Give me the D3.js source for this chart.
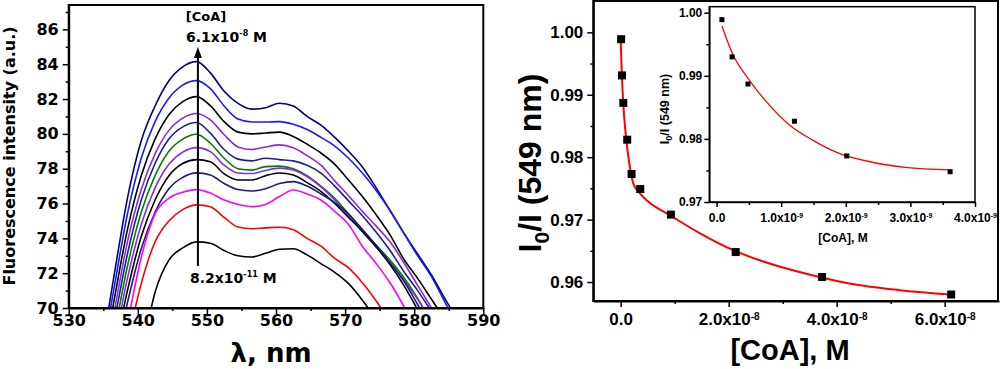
<!DOCTYPE html>
<html>
<head>
<meta charset="utf-8" />
<style>
  body { margin: 0; background: #fff; }
  svg { display: block; font-weight: bold; }
  .left text { font-family: "DejaVu Sans", sans-serif; }
  .right text { font-family: "Liberation Sans", Arial, sans-serif; }
  .axis path, .axis line { stroke: #000; }
</style>
</head>
<body>
<div id="chart"></div>
<script src="https://d3js.org/d3.v7.min.js"></script>
<script>
// ---- fluorescence spectra (left) ----
var wavelength = [534.5, 536.5, 538.5, 540.5, 542.5, 544.5, 546.5, 548.5, 550.5, 552.5, 554.5, 556.5, 558.5,
  560.5, 562.5, 564.5, 566.5, 568.5, 570.5, 572.5, 574.5, 576.5, 578.5, 580.5, 582.5, 584.5, 586.5];
var spec1  = [66.9, 71.7, 76.3, 79.6, 81.6, 83.05, 83.85, 84.15, 83.5, 82.45, 81.75, 81.42, 81.5, 81.76, 81.6, 81.0, 80.5, 79.8, 79.0, 78.1, 76.9, 75.6, 74.3, 73.1, 71.9, 70.5, 69.2];
var spec2  = [66.5, 71.0, 75.4, 78.6, 80.7, 82.05, 82.8, 83.06, 82.6, 81.6, 80.85, 80.68, 80.68, 80.7, 80.55, 80.25, 79.8, 79.3, 78.6, 77.75, 76.75, 75.6, 74.3, 73.0, 71.8, 70.3, 68.8];
var spec3  = [65.9, 70.3, 74.5, 77.6, 79.7, 81.1, 81.85, 82.14, 81.62, 80.7, 80.1, 80.0, 80.05, 80.1, 79.85, 79.4, 78.9, 78.25, 77.35, 76.4, 75.35, 74.2, 72.8, 71.7, 70.5, 69.3, 68.0];
var spec4  = [65.5, 69.6, 73.8, 76.8, 78.85, 80.2, 80.9, 81.17, 80.8, 79.95, 79.25, 79.1, 79.25, 79.37, 79.2, 78.75, 78.2, 77.3, 76.45, 75.55, 74.7, 73.8, 72.6, 71.3, 70.0, 68.7, 67.4];
var spec5  = [64.8, 69.0, 73.1, 76.2, 78.3, 79.7, 80.4, 80.65, 80.04, 79.1, 78.55, 78.45, 78.6, 78.52, 78.45, 78.2, 77.75, 77.0, 76.15, 75.3, 74.35, 73.3, 72.1, 71.0, 69.8, 68.5, 67.2];
var spec6  = [64.3, 68.3, 72.4, 75.5, 77.6, 79.0, 79.7, 79.98, 79.46, 78.6, 78.0, 77.92, 78.12, 78.15, 78.0, 77.6, 77.0, 76.3, 75.4, 74.5, 73.6, 72.75, 71.75, 70.55, 69.2, 67.9, 66.6];
var spec7  = [63.8, 67.7, 71.7, 74.8, 76.9, 78.25, 78.95, 79.21, 78.98, 78.2, 77.75, 77.72, 77.9, 78.03, 77.93, 77.55, 76.95, 76.2, 75.3, 74.4, 73.5, 72.6, 71.6, 70.5, 69.2, 67.9, 66.6];
var spec8  = [63.3, 67.2, 71.0, 74.1, 76.2, 77.6, 78.3, 78.52, 78.4, 77.7, 77.35, 77.35, 77.6, 77.75, 77.64, 77.2, 76.7, 76.0, 75.2, 74.4, 73.5, 72.5, 71.3, 69.9, 68.5, 67.2, 65.9];
var spec9  = [62.8, 66.6, 70.3, 73.4, 75.5, 76.85, 77.5, 77.76, 77.64, 77.15, 76.8, 76.72, 76.85, 77.15, 77.26, 77.0, 76.55, 76.05, 75.4, 74.5, 73.6, 72.6, 71.55, 70.2, 68.8, 67.4, 66.0];
var spec10 = [61.5, 65.3, 69.1, 72.9, 75.4, 76.3, 76.65, 76.8, 76.6, 76.2, 75.95, 75.82, 75.95, 76.4, 76.78, 76.55, 76.2, 75.55, 74.8, 73.55, 72.55, 71.45, 70.1, 68.6, 67.2, 65.8, 64.4];
var spec11 = [60.5, 64.2, 68.0, 71.4, 73.8, 75.0, 75.65, 75.92, 75.82, 75.2, 74.65, 74.55, 74.6, 74.64, 74.5, 74.0, 73.55, 72.85, 72.3, 71.45, 70.4, 69.2, 68.0, 66.8, 65.6, 64.4, 63.2];
var spec12 = [55.0, 59.0, 63.0, 67.2, 70.9, 72.75, 73.45, 73.8, 73.72, 73.3, 73.0, 72.93, 73.15, 73.37, 73.4, 73.05, 72.55, 72.05, 71.4, 70.45, 69.3, 68.0, 66.8, 65.6, 64.4, 63.2, 62.0];
var specColors = ["#000080", "#1a1aff", "#000000", "#8a2be2", "#1f1f8f", "#008000",
  "#8a2be2", "#000000", "#1a1a80", "#ff00ff", "#ff0000", "#000000"];
var specXTicks = [530, 540, 550, 560, 570, 580, 590];
var specXMinor = [535, 545, 555, 565, 575, 585];
var specYTicks = [70, 72, 74, 76, 78, 80, 82, 84, 86];
var specYMinor = [71, 73, 75, 77, 79, 81, 83, 85, 87];

// ---- quenching plot (right) ----
var coaConc = [8.2e-11, 2.4e-10, 4.9e-10, 1.21e-9, 2.02e-9, 3.62e-9, 9.3e-9, 2.13e-8, 3.73e-8, 6.12e-8];
var ratio   = [0.9989, 0.9931, 0.9887, 0.9828, 0.9773, 0.9749, 0.9708, 0.9648, 0.9608, 0.9580];
var fitConc  = [0, 1.85e-10, 4.8e-10, 9.8e-10, 1.6e-9, 2.33e-9, 3.57e-9, 4.8e-9, 9.13e-9, 1.47e-8, 2.085e-8, 2.6e-8, 3.135e-8, 3.94e-8, 4.5e-8, 5.17e-8, 6.12e-8];
var fitRatio = [0.9988, 0.9940, 0.9886, 0.9833, 0.9790, 0.9758, 0.9742, 0.9731, 0.9707, 0.9678, 0.9651, 0.9634, 0.9620, 0.9603, 0.9594, 0.9587, 0.9580];
var mainXTicks = [0, 2e-8, 4e-8, 6e-8];
var mainXMinor = [1e-8, 3e-8, 5e-8];
var mainYTicks = [0.96, 0.97, 0.98, 0.99, 1.00];
var mainYMinor = [0.965, 0.975, 0.985, 0.995];

// inset (first six points)
var insetConc  = [8.2e-11, 2.4e-10, 4.86e-10, 1.205e-9, 2.015e-9, 3.615e-9];
var insetRatio = [0.9989, 0.9930, 0.9887, 0.9828, 0.9773, 0.9748];
var insetFitConc  = [8.2e-11, 2.55e-10, 4.86e-10, 7.7e-10, 1.128e-9, 1.486e-9, 1.897e-9, 2.41e-9, 2.92e-9, 3.615e-9];
var insetFitRatio = [0.9979, 0.9933, 0.9896, 0.9859, 0.9822, 0.9798, 0.9777, 0.9763, 0.9755, 0.9751];
var insetXTicks = [0, 1e-9, 2e-9, 3e-9, 4e-9];
var insetXMinor = [5e-10, 1.5e-9, 2.5e-9, 3.5e-9];
var insetYTicks = [0.97, 0.98, 0.99, 1.00];
var insetYMinor = [0.975, 0.985, 0.995];

var spectra = [spec1, spec2, spec3, spec4, spec5, spec6, spec7, spec8, spec9, spec10, spec11, spec12];

var svg = d3.select('#chart').append('svg')
  .attr('width', 1000)
  .attr('height', 369);

// scientific tick label, e.g. 2.0x10^-8
function sciLabel(text, v, supSize) {
  text.each(function(d) {
    var t = d3.select(this).text('');
    if (d === 0) { t.text('0.0'); return; }
    var e = Math.floor(Math.log10(d) + 1e-9);
    t.append('tspan').text((d / Math.pow(10, e)).toFixed(1) + 'x10');
    t.append('tspan').attr('dy', '-0.55em').attr('font-size', supSize).text(e);
  });
}

function styleAxis(g, w) {
  g.attr('class', 'axis');
  g.select('.domain').attr('stroke-width', w);
  g.selectAll('.tick line').attr('stroke-width', 1.5);
}

// ================= left panel =================
var left = svg.append('g').attr('class', 'left');
var x1 = d3.scaleLinear().domain([530, 590]).range([68.7, 483.3]);
var y1 = d3.scaleLinear().domain([70, 87.4]).range([308, 5]);

left.append('clipPath').attr('id', 'clipL')
  .append('rect').attr('x', x1(530)).attr('y', y1(87.4))
  .attr('width', x1(590) - x1(530)).attr('height', y1(70) - y1(87.4));

var line1 = d3.line()
  .x(function(d) { return x1(d[0]); })
  .y(function(d) { return y1(d[1]); })
  .curve(d3.curveMonotoneX);

left.append('g').attr('clip-path', 'url(#clipL)')
  .selectAll('path')
  .data(spectra)
  .enter().append('path')
  .attr('d', function(s) { return line1(wavelength.map(function(w, i) { return [w, s[i]]; })); })
  .attr('fill', 'none')
  .attr('stroke', function(s, i) { return specColors[i]; })
  .attr('stroke-width', 1.6);

var gx1 = left.append('g').attr('transform', 'translate(0,' + y1(70) + ')')
  .call(d3.axisBottom(x1).tickValues(specXTicks).tickSize(6).tickSizeOuter(0).tickPadding(1).tickFormat(d3.format('d')));
gx1.selectAll('text').attr('font-size', 16).attr('fill', '#000');
styleAxis(gx1, 2);
var gx1m = left.append('g').attr('transform', 'translate(0,' + y1(70) + ')')
  .call(d3.axisBottom(x1).tickValues(specXMinor).tickSize(3).tickSizeOuter(0).tickFormat(''));
styleAxis(gx1m, 0);

var gy1 = left.append('g').attr('transform', 'translate(' + x1(530) + ',0)')
  .call(d3.axisLeft(y1).tickValues(specYTicks).tickSize(6).tickSizeOuter(0).tickPadding(4).tickFormat(d3.format('d')));
gy1.selectAll('text').attr('font-size', 16).attr('fill', '#000');
styleAxis(gy1, 2);
var gy1m = left.append('g').attr('transform', 'translate(' + x1(530) + ',0)')
  .call(d3.axisLeft(y1).tickValues(specYMinor).tickSize(3).tickSizeOuter(0).tickFormat(''));
styleAxis(gy1m, 0);

left.append('rect')
  .attr('x', x1(530)).attr('y', y1(87.4))
  .attr('width', x1(590) - x1(530)).attr('height', y1(70) - y1(87.4))
  .attr('fill', 'none').attr('stroke', '#000').attr('stroke-width', 2);

// arrow
var ax = x1(548.7);
left.append('line').attr('x1', ax).attr('x2', ax).attr('y1', 266).attr('y2', 56)
  .attr('stroke', '#000').attr('stroke-width', 2);
left.append('path').attr('d', 'M' + ax + ',47 L' + (ax - 4) + ',58 L' + (ax + 4) + ',58 Z').attr('fill', '#000');

left.append('text').attr('x', 206).attr('y', 21).attr('text-anchor', 'middle')
  .attr('font-size', 13).text('[CoA]');
var lt = left.append('text').attr('x', 186).attr('y', 42).attr('font-size', 14);
lt.append('tspan').text('6.1x10');
lt.append('tspan').attr('dy', -6).attr('font-size', 8).text('-8');
lt.append('tspan').attr('dy', 6).text(' M');
var lb = left.append('text').attr('x', 190).attr('y', 283).attr('font-size', 14);
lb.append('tspan').text('8.2x10');
lb.append('tspan').attr('dy', -6).attr('font-size', 8).text('-11');
lb.append('tspan').attr('dy', 6).text(' M');

left.append('text')
  .attr('transform', 'translate(15,156) rotate(-90)')
  .attr('text-anchor', 'middle').attr('font-size', 16)
  .text('Fluorescence intensity (a.u.)');
left.append('text').attr('x', 271).attr('y', 362).attr('text-anchor', 'middle')
  .attr('font-size', 26).text('\u03bb, nm');

// ================= right panel =================
var right = svg.append('g').attr('class', 'right');
var x2 = d3.scaleLinear().domain([-0.507e-8, 7.006e-8]).range([593.3, 999]);
var y2 = d3.scaleLinear().domain([0.95696, 1.00502]).range([301, 1]);

var gx2 = right.append('g').attr('transform', 'translate(0,' + y2.range()[0] + ')')
  .call(d3.axisBottom(x2).tickValues(mainXTicks).tickSize(6).tickSizeOuter(0).tickPadding(6));
gx2.selectAll('text').attr('font-size', 17).attr('fill', '#000').call(sciLabel, 0, 10);
styleAxis(gx2, 2);
var gx2m = right.append('g').attr('transform', 'translate(0,' + y2.range()[0] + ')')
  .call(d3.axisBottom(x2).tickValues(mainXMinor).tickSize(3).tickSizeOuter(0).tickFormat(''));
styleAxis(gx2m, 0);

var gy2 = right.append('g').attr('transform', 'translate(' + x2.range()[0] + ',0)')
  .call(d3.axisLeft(y2).tickValues(mainYTicks).tickSize(6).tickSizeOuter(0).tickPadding(4).tickFormat(d3.format('.2f')));
gy2.selectAll('text').attr('font-size', 17).attr('fill', '#000');
styleAxis(gy2, 2);
var gy2m = right.append('g').attr('transform', 'translate(' + x2.range()[0] + ',0)')
  .call(d3.axisLeft(y2).tickValues(mainYMinor).tickSize(3).tickSizeOuter(0).tickFormat(''));
styleAxis(gy2m, 0);

right.append('rect')
  .attr('x', x2.range()[0]).attr('y', 1)
  .attr('width', x2.range()[1] - x2.range()[0] - 1).attr('height', y2.range()[0] - 1)
  .attr('fill', 'none').attr('stroke', '#000').attr('stroke-width', 2);

var line2 = d3.line()
  .x(function(d) { return x2(d[0]); })
  .y(function(d) { return y2(d[1]); })
  .curve(d3.curveMonotoneX);
right.append('path')
  .attr('d', line2(fitConc.map(function(c, i) { return [c, fitRatio[i]]; })))
  .attr('fill', 'none').attr('stroke', '#ff0000').attr('stroke-width', 2);
right.selectAll('rect.pt')
  .data(coaConc)
  .enter().append('rect').attr('class', 'pt')
  .attr('x', function(c) { return x2(c) - 4; })
  .attr('y', function(c, i) { return y2(ratio[i]) - 4; })
  .attr('width', 8).attr('height', 8).attr('fill', '#000');

right.append('text')
  .attr('transform', 'translate(790,360)')
  .attr('text-anchor', 'middle').attr('font-size', 29)
  .text('[CoA], M');
var yt = right.append('text')
  .attr('transform', 'translate(541,163) rotate(-90)')
  .attr('text-anchor', 'middle').attr('font-size', 32);
yt.append('tspan').text('I');
yt.append('tspan').attr('dy', 8).attr('font-size', 21).text('0');
yt.append('tspan').attr('dy', -8).text('/I (549 nm)');

// ---- inset ----
var x3 = d3.scaleLinear().domain([-0.113e-9, 4.0e-9]).range([709.3, 975]);
var y3 = d3.scaleLinear().domain([0.97, 1.00095]).range([202, 6.7]);
var inset = right.append('g');
inset.append('rect')
  .attr('x', 709.3).attr('y', 6.7).attr('width', 975 - 709.3).attr('height', 202 - 6.7)
  .attr('fill', '#fff').attr('stroke', '#000').attr('stroke-width', 1.5);

var gx3 = inset.append('g').attr('transform', 'translate(0,202)')
  .call(d3.axisBottom(x3).tickValues(insetXTicks).tickSize(5).tickSizeOuter(0).tickPadding(6));
gx3.selectAll('text').attr('font-size', 12).attr('fill', '#000').call(sciLabel, 0, 7);
styleAxis(gx3, 1.5);
var gx3m = inset.append('g').attr('transform', 'translate(0,202)')
  .call(d3.axisBottom(x3).tickValues(insetXMinor).tickSize(3).tickSizeOuter(0).tickFormat(''));
styleAxis(gx3m, 0);
var gy3 = inset.append('g').attr('transform', 'translate(709.3,0)')
  .call(d3.axisLeft(y3).tickValues(insetYTicks).tickSize(5).tickSizeOuter(0).tickPadding(2).tickFormat(d3.format('.2f')));
gy3.selectAll('text').attr('font-size', 12).attr('fill', '#000');
styleAxis(gy3, 1.5);
var gy3m = inset.append('g').attr('transform', 'translate(709.3,0)')
  .call(d3.axisLeft(y3).tickValues(insetYMinor).tickSize(3).tickSizeOuter(0).tickFormat(''));
styleAxis(gy3m, 0);

var line3 = d3.line()
  .x(function(d) { return x3(d[0]); })
  .y(function(d) { return y3(d[1]); })
  .curve(d3.curveMonotoneX);
inset.append('path')
  .attr('d', line3(insetFitConc.map(function(c, i) { return [c, insetFitRatio[i]]; })))
  .attr('fill', 'none').attr('stroke', '#ff0000').attr('stroke-width', 1.3);
inset.selectAll('rect.ipt')
  .data(insetConc)
  .enter().append('rect').attr('class', 'ipt')
  .attr('x', function(c) { return x3(c) - 2.5; })
  .attr('y', function(c, i) { return y3(insetRatio[i]) - 2.5; })
  .attr('width', 5).attr('height', 5).attr('fill', '#000');

inset.append('text').attr('x', 843).attr('y', 242).attr('text-anchor', 'middle')
  .attr('font-size', 12).text('[CoA], M');
var it = inset.append('text')
  .attr('transform', 'translate(669,109) rotate(-90)')
  .attr('text-anchor', 'middle').attr('font-size', 12.5);
it.append('tspan').text('I');
it.append('tspan').attr('dy', 3).attr('font-size', 9).text('0');
it.append('tspan').attr('dy', -3).text('/I (549 nm)');
</script>
</body>
</html>
